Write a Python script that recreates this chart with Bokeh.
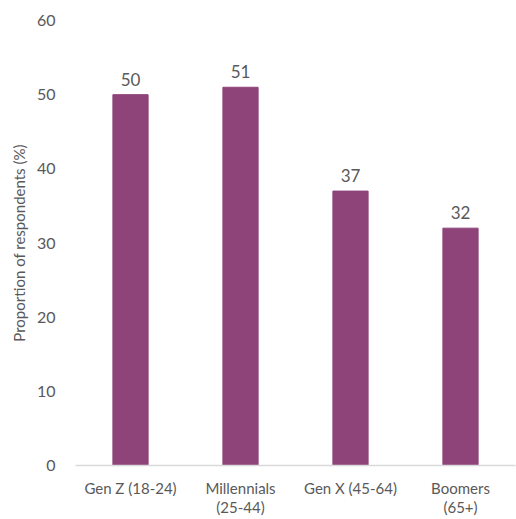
from bokeh.plotting import figure
from bokeh.models import ColumnDataSource, LabelSet, FixedTicker, Range1d
from bokeh.core.properties import value
from bokeh.embed import file_html
from bokeh.resources import INLINE

categories = ["Gen Z (18-24)", "Millennials\n(25-44)", "Gen X (45-64)", "Boomers\n(65+)"]
values = [50, 51, 37, 32]
y_ticks = [0, 10, 20, 30, 40, 50, 60]

FONT = "Lato"
GRAY = "#595959"
BAR = "#8E4479"

src = ColumnDataSource(dict(cat=categories, val=values, lbl=[str(v) for v in values]))

p = figure(x_range=categories, width=516, height=519, output_backend="svg",
           toolbar_location=None, min_border_left=75, min_border_right=1,
           min_border_top=20, min_border_bottom=53)
p.y_range = Range1d(0, 60)
p.vbar(x="cat", top="val", width=0.32, source=src, color=BAR)

labels = LabelSet(x="cat", y="val", text="lbl", source=src, text_align="center",
                  text_baseline="bottom", y_offset=9, text_font=value(FONT),
                  text_font_size="17px", text_color=GRAY)
p.add_layout(labels)

p.outline_line_color = None
p.xgrid.grid_line_color = None
p.ygrid.grid_line_color = None

p.yaxis.ticker = FixedTicker(ticks=y_ticks)
p.yaxis.axis_line_color = None
p.yaxis.major_tick_line_color = None
p.yaxis.minor_tick_line_color = None
p.yaxis.major_label_text_font = FONT
p.yaxis.major_label_text_font_size = "16px"
p.yaxis.major_label_text_color = GRAY
p.yaxis.major_label_standoff = 14
p.yaxis.axis_label = "Proportion of respondents (%)"
p.yaxis.axis_label_text_font = FONT
p.yaxis.axis_label_text_font_size = "15px"
p.yaxis.axis_label_text_font_style = "normal"
p.yaxis.axis_label_text_color = GRAY
p.yaxis.axis_label_standoff = 6

p.xaxis.axis_line_color = "#D9D9D9"
p.xaxis.axis_line_width = 1.5
p.xaxis.major_tick_line_color = None
p.xaxis.minor_tick_line_color = None
p.xaxis.major_label_text_font = FONT
p.xaxis.major_label_text_font_size = "15px"
p.xaxis.major_label_text_color = GRAY
p.xaxis.major_label_text_line_height = 1.1
p.xaxis.major_label_standoff = 7
p.x_range.range_padding = 0

open("out.html", "w").write(file_html(p, INLINE))
